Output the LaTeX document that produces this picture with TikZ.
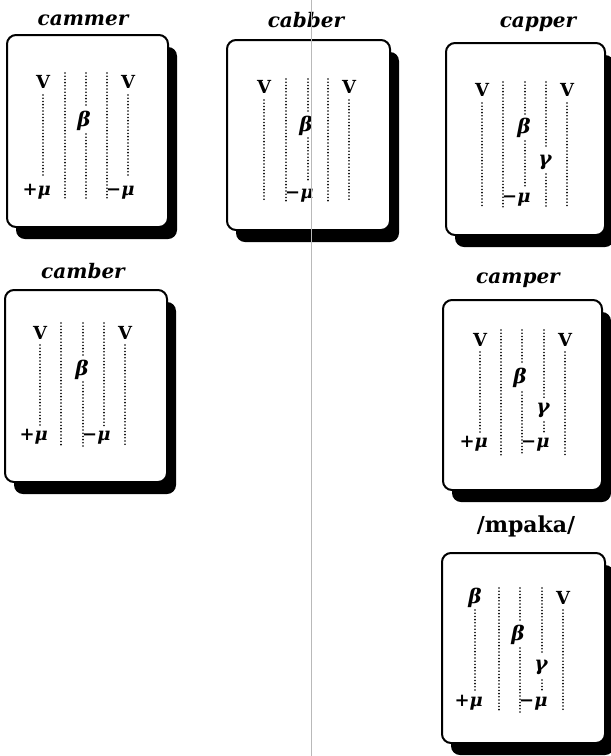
\documentclass[tikz,border=0pt]{standalone}
\usepackage{fontspec}
\setmainfont{DejaVu Serif}
\newcommand\mypanel[4]{%
  \fill[shadowst] ({#1+9},{#2+12}) rectangle ({#3+9},{#4+12});
  \draw[boxst] (#1,#2) rectangle (#3,#4);}
\newcommand\dcol[3]{\draw[dots] (#1,#2) -- (#1,#3);}
\begin{document}
\begin{tikzpicture}[x=1pt,y=-1pt,
  boxst/.style={draw=black, line width=2pt, fill=white, rounded corners=9pt},
  shadowst/.style={fill=black, rounded corners=9pt},
  dots/.style={line width=1.8pt, line cap=round, dash pattern=on 0pt off 3.2pt},
  ttl/.style={font=\fontsize{20}{20}\selectfont\bfseries\itshape, anchor=base, inner sep=0pt},
  ttlup/.style={font=\fontsize{22}{22}\selectfont\bfseries, anchor=base, inner sep=0pt},
  vlab/.style={font=\fontsize{18}{18}\selectfont\bfseries, anchor=base, inner sep=0pt},
  glab/.style={font=\fontsize{20}{20}\selectfont\bfseries\itshape, inner sep=0pt},
  pmu/.style={font=\fontsize{18}{18}\selectfont\bfseries\itshape, anchor=base east, inner sep=0pt},
  mmu/.style={font=\fontsize{18}{18}\selectfont\bfseries\itshape, anchor=base west, inner sep=0pt},
]
\useasboundingbox (0,0) rectangle (611,756);
\clip (0,0) rectangle (611,756);

% ---------- cammer ----------
\node[ttl] (t1) at (83,25) {cammer};
\mypanel{7}{35}{168}{227}
\node[vlab] (v1a) at (43,88) {V};
\node[vlab] (v1b) at (128,88) {V};
\dcol{43}{95}{177}
\dcol{65}{73}{199}
\dcol{86}{73}{108}
\dcol{86}{134}{199}
\dcol{107}{73}{199}
\dcol{128}{95}{177}
\node[glab] (b1) at (84,121) {β};
\node[pmu] (p1) at (51,195) {{\upshape +}μ};
\node[mmu] (m1) at (106,195) {{\upshape −}μ};

% ---------- cabber ----------
\node[ttl] (t2) at (306,27) {cabber};
\mypanel{227}{40}{390}{230}
\node[vlab] (v2a) at (264,93) {V};
\node[vlab] (v2b) at (349,93) {V};
\dcol{264}{100}{202}
\dcol{286}{79}{203}
\dcol{308}{79}{113}
\dcol{308}{138}{182}
\dcol{328}{79}{203}
\dcol{349}{100}{202}
\node[glab] (b2) at (306,126) {β};
\node[mmu] (m2) at (285,198) {{\upshape −}μ};

% ---------- capper ----------
\node[ttl] (t3) at (538,27) {capper};
\mypanel{446}{43}{605}{235}
\node[vlab] (v3a) at (482,96) {V};
\node[vlab] (v3b) at (567,96) {V};
\dcol{482}{103}{207}
\dcol{503}{82}{207}
\dcol{525}{82}{116}
\dcol{525}{141}{187}
\dcol{546}{82}{148}
\dcol{546}{174}{207}
\dcol{567}{103}{207}
\node[glab] (b3) at (524,128) {β};
\node[glab] (g3) at (545,162) {γ};
\node[mmu] (m3) at (502,202) {{\upshape −}μ};

% ---------- camber ----------
\node[ttl] (t4) at (83,278) {camber};
\mypanel{5}{290}{167}{482}
\node[vlab] (v4a) at (40,339) {V};
\node[vlab] (v4b) at (125,339) {V};
\dcol{40}{345}{427}
\dcol{61}{323}{447}
\dcol{83}{323}{358}
\dcol{83}{382}{447}
\dcol{104}{323}{427}
\dcol{125}{345}{447}
\node[glab] (b4) at (82,370) {β};
\node[pmu] (p4) at (48,440) {{\upshape +}μ};
\node[mmu] (m4) at (82,440) {{\upshape −}μ};

% ---------- camper ----------
\node[ttl] (t5) at (518,283) {camper};
\mypanel{443}{300}{602}{490}
\node[vlab] (v5a) at (480,346) {V};
\node[vlab] (v5b) at (565,346) {V};
\dcol{480}{352}{433}
\dcol{501}{330}{455}
\dcol{522}{330}{365}
\dcol{522}{392}{455}
\dcol{544}{330}{398}
\dcol{544}{422}{433}
\dcol{565}{352}{455}
\node[glab] (b5) at (520,378) {β};
\node[glab] (g5) at (543,410) {γ};
\node[pmu] (p5) at (488,447) {{\upshape +}μ};
\node[mmu] (m5) at (521,447) {{\upshape −}μ};

% ---------- /mpaka/ ----------
\node[ttlup] (t6) at (526,532) {/mpaka/};
\mypanel{442}{553}{605}{743}
\node[glab] (b6a) at (475,598) {β};
\node[vlab] (v6b) at (563,604) {V};
\dcol{475}{610}{690}
\dcol{499}{588}{712}
\dcol{520}{588}{622}
\dcol{520}{648}{712}
\dcol{542}{588}{653}
\dcol{542}{680}{690}
\dcol{563}{610}{712}
\node[glab] (b6) at (518,635) {β};
\node[glab] (g6) at (541,667) {γ};
\node[pmu] (p6) at (483,706) {{\upshape +}μ};
\node[mmu] (m6) at (519,706) {{\upshape −}μ};

% ---------- fold line ----------
\draw[gray!55, line width=0.8pt] (311,0) -- (311,756);
\end{tikzpicture}
\end{document}
